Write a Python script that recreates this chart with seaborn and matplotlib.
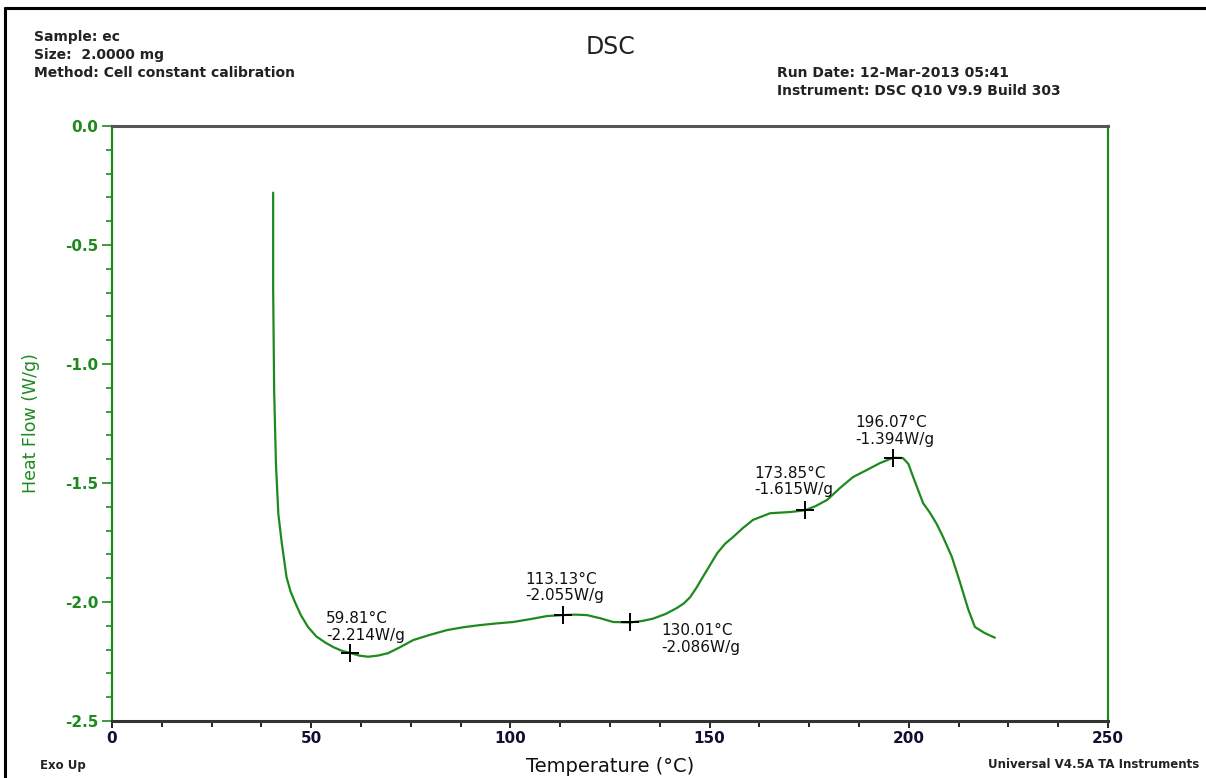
import numpy as np
import pandas as pd
import matplotlib
matplotlib.use("Agg")
import matplotlib.pyplot as plt
from matplotlib.lines import Line2D
from matplotlib.ticker import MultipleLocator, FormatStrFormatter
import seaborn as sns

# -------------------------------------------------
# DSC trace
# -------------------------------------------------
temperature = [40.45, 40.45, 40.7, 41.15, 41.75, 42.6, 43.8, 44.8, 45.9, 47.4, 49.2, 51.3, 53.5,
               55.6, 57.7, 59.81, 62.0, 64.3, 66.8, 69.3, 72.3, 75.6, 79.8, 84.1, 88.2, 92.4,
               96.5, 100.7, 105.0, 109.2, 113.13, 116.2, 119.2, 122.5, 125.8, 130.01, 133.0,
               135.8, 139.0, 141.8, 143.6, 145.1, 146.7, 148.3, 150.1, 151.9, 153.9, 155.9,
               158.3, 160.9, 165.2, 170.2, 173.85, 176.5, 179.5, 182.8, 186.0, 189.5, 192.8,
               196.07, 198.5, 199.9, 201.1, 203.6, 205.3, 207.0, 208.6, 210.8, 212.9, 214.9,
               216.6, 219.0, 221.6]
heat_flow = [-0.28, -0.68, -1.11, -1.42, -1.63, -1.75, -1.895, -1.955, -2.0, -2.055, -2.105, -2.145, -2.17,
             -2.19, -2.205, -2.214, -2.225, -2.23, -2.225, -2.215, -2.19, -2.16, -2.138, -2.118, -2.106, -2.097,
             -2.09, -2.084, -2.072, -2.059, -2.055, -2.053, -2.055, -2.068, -2.084, -2.086, -2.08,
             -2.07, -2.05, -2.025, -2.005, -1.98, -1.94, -1.895, -1.845, -1.795, -1.755, -1.727,
             -1.69, -1.655, -1.627, -1.622, -1.615, -1.598, -1.571, -1.52, -1.475, -1.445, -1.416,
             -1.394, -1.395, -1.42, -1.475, -1.585, -1.625, -1.672, -1.727, -1.81, -1.92, -2.03,
             -2.105, -2.13, -2.15]

# marked points
peak_temp = [59.81, 113.13, 130.01, 173.85, 196.07]
peak_flow = [-2.214, -2.055, -2.086, -1.615, -1.394]
# label offsets in pixels (dx, dy) and vertical alignment
label_offset = [(-24, 10, "bottom"), (-37, 12, "bottom"), (31, -1, "top"),
                (-50, 13, "bottom"), (-38, 11, "bottom")]

df = pd.DataFrame({"Temperature": temperature, "Heat Flow": heat_flow})

GREEN = "#1e8a1e"

sns.set_style("white")
plt.rcParams["font.family"] = ["DejaVu Sans"]

fig = plt.figure(figsize=(12.06, 7.78), dpi=100)
ax = fig.add_axes([112 / 1206, 1 - 721 / 778, 996 / 1206, 595 / 778])

sns.lineplot(data=df, x="Temperature", y="Heat Flow", ax=ax, sort=False,
             estimator=None, color=GREEN, linewidth=1.6)
ax.scatter(peak_temp, peak_flow, marker="+", s=160, color="black",
           linewidths=1.4, zorder=5)

for t, h, (dx, dy, va) in zip(peak_temp, peak_flow, label_offset):
    ax.annotate(f"{t:.2f}°C\n{h:.3f}W/g", xy=(t, h), xytext=(dx, dy),
                textcoords="offset pixels", ha="left", va=va,
                fontsize=11, color="#111111", linespacing=1.12)

ax.set_xlim(0, 250)
ax.set_ylim(-2.5, 0.0)
ax.xaxis.set_major_locator(MultipleLocator(50))
ax.xaxis.set_minor_locator(MultipleLocator(12.5))
ax.yaxis.set_major_locator(MultipleLocator(0.5))
ax.yaxis.set_minor_locator(MultipleLocator(0.1))
ax.yaxis.set_major_formatter(FormatStrFormatter("%.1f"))

ax.tick_params(axis="y", which="major", direction="out", length=7, width=1.2,
               color=GREEN, labelcolor=GREEN, labelsize=11, pad=3, left=True)
ax.tick_params(axis="y", which="minor", direction="out", length=4, width=1.2,
               color=GREEN, left=True)
ax.tick_params(axis="x", which="major", direction="out", length=5, width=1.2,
               color="black", labelcolor="#101030", labelsize=11, pad=2, bottom=True)
ax.tick_params(axis="x", which="minor", direction="out", length=4, width=1.2,
               color="black", bottom=True)
for lab in ax.get_yticklabels() + ax.get_xticklabels():
    lab.set_fontweight("bold")

for side in ["left", "right"]:
    ax.spines[side].set_color(GREEN)
    ax.spines[side].set_linewidth(1.6)
ax.spines["top"].set_color("#555555")
ax.spines["top"].set_linewidth(2.2)
ax.spines["bottom"].set_color("#333333")
ax.spines["bottom"].set_linewidth(2.2)

ax.set_xlabel("Temperature (°C)", fontsize=14, color="#111111", labelpad=8)
ax.set_ylabel("Heat Flow (W/g)", fontsize=12.5, color=GREEN, labelpad=18)

# header / footer text
fig.text(34 / 1206, 1 - 30 / 778,
         "Sample: ec\nSize:  2.0000 mg\nMethod: Cell constant calibration",
         ha="left", va="top", fontsize=10, fontweight="bold", color="#222222",
         linespacing=1.35)
fig.text(610 / 1206, 1 - 47 / 778, "DSC", ha="center", va="center",
         fontsize=17, color="#222222")
fig.text(777 / 1206, 1 - 66 / 778,
         "Run Date: 12-Mar-2013 05:41\nInstrument: DSC Q10 V9.9 Build 303",
         ha="left", va="top", fontsize=10, fontweight="bold", color="#222222",
         linespacing=1.35)
fig.text(40 / 1206, 1 - 765 / 778, "Exo Up", ha="left", va="center",
         fontsize=8.5, fontweight="bold", color="#222222")
fig.text(988 / 1206, 1 - 765 / 778, "Universal V4.5A TA Instruments",
         ha="left", va="center", fontsize=8.5, fontweight="bold", color="#222222")

# outer frame (left and top edges visible)
fig.add_artist(Line2D([5 / 1206, 5 / 1206], [0, 1 - 8 / 778],
                      transform=fig.transFigure, color="black", linewidth=2.2))
fig.add_artist(Line2D([5 / 1206, 1], [1 - 8 / 778, 1 - 8 / 778],
                      transform=fig.transFigure, color="black", linewidth=2.2))

fig.savefig("out.png", dpi=100)
